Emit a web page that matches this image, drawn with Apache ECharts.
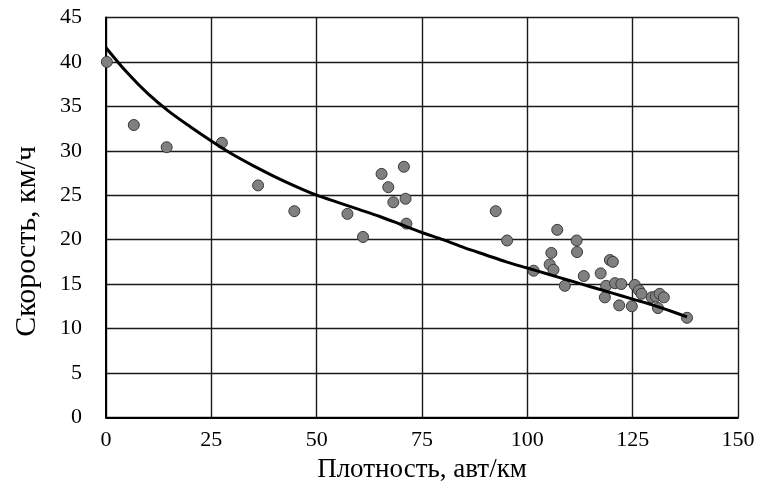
<!DOCTYPE html>
<html>
<head>
<meta charset="utf-8">
<script src="https://cdn.jsdelivr.net/npm/echarts@6/dist/echarts.min.js"></script>
<style>
html,body{margin:0;padding:0;background:#fff;}
#chart{width:759px;height:491px;}
</style>
</head>
<body>
<div id="chart"></div>
<script>
// Observed points: density (veh/km) and speed (km/h)
const density = [0.2, 6.6, 14.4, 27.5, 36.1, 44.7, 57.3, 61.0, 65.4, 67.0, 70.7, 68.2, 71.1, 71.3,
  92.5, 95.2, 101.5, 107.1, 111.7, 111.8, 105.7, 105.3, 106.2, 108.9, 113.4, 117.4, 119.6, 120.3,
  118.7, 118.4, 120.8, 122.3, 121.8, 124.8, 125.5, 126.5, 127.1, 129.5, 130.5, 131.4, 132.4, 131.0, 137.9];
const speed = [40.0, 32.9, 30.4, 30.9, 26.1, 23.2, 22.9, 20.3, 27.4, 25.9, 28.2, 24.2, 24.6, 21.8,
  23.2, 19.9, 16.5, 21.1, 19.9, 18.6, 18.5, 17.2, 16.6, 14.8, 15.9, 16.2, 17.7, 17.5,
  14.8, 13.5, 15.1, 15.0, 12.6, 12.5, 14.9, 14.3, 13.9, 13.5, 13.6, 13.9, 13.5, 12.3, 11.2];
// Trend curve (every 5 veh/km)
const trendX = [0, 5, 10, 15, 20, 25, 30, 35, 40, 45, 50, 55, 60, 65, 70, 75, 80, 85, 90, 95,
  100, 105, 110, 115, 120, 125, 130, 135, 137.9];
const trendY = [41.6, 38.8, 36.4, 34.4, 32.7, 31.1, 29.6, 28.3, 27.1, 26.0, 25.0, 24.2, 23.4, 22.6,
  21.7, 20.8, 20.0, 19.1, 18.3, 17.5, 16.8, 16.1, 15.4, 14.7, 14.0, 13.3, 12.6, 11.8, 11.3];
// Axis ticks
const xTicks = [0, 25, 50, 75, 100, 125, 150];
const yTicks = [0, 5, 10, 15, 20, 25, 30, 35, 40, 45];

const chart = echarts.init(document.getElementById('chart'), null, {renderer: 'canvas'});
const font = '"Liberation Serif", "Times New Roman", serif';
const pts = density.map((d, i) => [d, speed[i]]);
const trend = trendX.map((d, i) => [d, trendY[i]]);

chart.setOption({
  animation: false,
  backgroundColor: '#ffffff',
  grid: {left: 106, right: 21, top: 17.5, bottom: 73.7, containLabel: false},
  xAxis: {
    type: 'value', min: xTicks[0], max: xTicks[xTicks.length - 1], interval: 25,
    name: 'Плотность, авт/км', nameLocation: 'middle', nameGap: 37,
    nameTextStyle: {fontFamily: font, fontSize: 27, color: '#000', verticalAlign: 'top'},
    axisLine: {show: true, lineStyle: {color: '#000', width: 2}},
    axisTick: {show: false},
    axisLabel: {fontFamily: font, fontSize: 22, color: '#000', margin: 12},
    splitLine: {show: true, lineStyle: {color: '#1a1a1a', width: 1.4}}
  },
  yAxis: {
    type: 'value', min: yTicks[0], max: yTicks[yTicks.length - 1], interval: 5,
    name: 'Скорость, км/ч', nameLocation: 'middle', nameGap: 64,
    nameTextStyle: {fontFamily: font, fontSize: 30, color: '#000', padding: [0, 48, 0, 0]},
    axisLine: {show: true, lineStyle: {color: '#000', width: 2}},
    axisTick: {show: false},
    axisLabel: {fontFamily: font, fontSize: 22, color: '#000', margin: 24},
    splitLine: {show: true, lineStyle: {color: '#1a1a1a', width: 1.4}}
  },
  series: [
    {
      type: 'scatter', data: pts, symbol: 'circle', symbolSize: 11, z: 3,
      itemStyle: {color: '#808080', borderColor: '#3a3a3a', borderWidth: 1, opacity: 1}
    },
    {
      type: 'line', data: trend, smooth: 0.3, symbol: 'none', z: 4,
      lineStyle: {color: '#000', width: 3}
    }
  ]
});
</script>
</body>
</html>
